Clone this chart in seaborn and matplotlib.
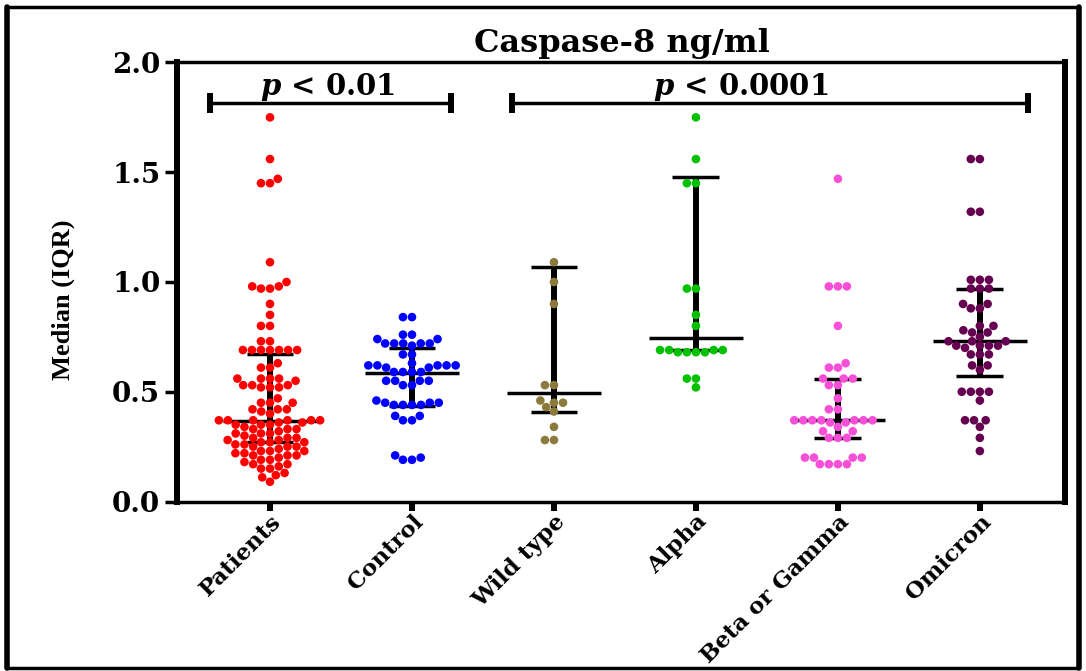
import matplotlib
matplotlib.use('Agg')
import matplotlib.pyplot as plt
from matplotlib.lines import Line2D
import seaborn as sns
import pandas as pd
import numpy as np

# groups and colours
groups = ['Patients', 'Control', 'Wild type', 'Alpha', 'Beta or Gamma', 'Omicron']
colors = ['#FF0000', '#0000FF', '#8C7A3C', '#00C000', '#F84FD8', '#650050']

# values (ng/ml)
patients = [1.75, 1.56, 1.47, 1.45, 1.45, 1.09, 1.00, 0.98, 0.98, 0.97, 0.97, 0.90, 0.85,
            0.80, 0.80, 0.73, 0.73, 0.69, 0.69, 0.69, 0.69, 0.69, 0.69, 0.69, 0.63, 0.61,
            0.61, 0.56, 0.56, 0.56, 0.55, 0.56, 0.53, 0.53, 0.53, 0.52, 0.52, 0.52, 0.47,
            0.45, 0.45, 0.45, 0.42, 0.42, 0.42, 0.41, 0.40, 0.37, 0.37, 0.37, 0.37, 0.36,
            0.37, 0.37, 0.36, 0.35, 0.35, 0.34, 0.35, 0.33, 0.33, 0.32, 0.33,
            0.31, 0.31, 0.30, 0.31, 0.29, 0.29, 0.28, 0.29, 0.28, 0.27,
            0.27, 0.26, 0.27, 0.26, 0.25, 0.25, 0.24, 0.25, 0.23, 0.23,
            0.22, 0.23, 0.22, 0.21, 0.21, 0.20, 0.21, 0.19, 0.19, 0.18,
            0.17, 0.17, 0.16, 0.15, 0.15, 0.13, 0.12, 0.11, 0.09]
control = [0.84, 0.84, 0.76, 0.76, 0.74, 0.74, 0.72, 0.72, 0.72, 0.71, 0.72, 0.72, 0.67,
           0.67, 0.62, 0.62, 0.62, 0.62, 0.63, 0.62, 0.61, 0.61, 0.59, 0.59, 0.59, 0.59,
           0.55, 0.55, 0.55, 0.55, 0.53, 0.53, 0.45, 0.45, 0.45, 0.46, 0.44, 0.44, 0.44,
           0.44, 0.39, 0.39, 0.37, 0.37, 0.20, 0.21, 0.19, 0.19]
wild_type = [1.09, 1.00, 0.90, 0.53, 0.53, 0.46, 0.45, 0.45, 0.43, 0.41, 0.34, 0.28, 0.28]
alpha = [1.75, 1.56, 1.45, 1.45, 0.97, 0.97, 0.85, 0.80, 0.69, 0.68, 0.69, 0.68, 0.68,
         0.68, 0.69, 0.69, 0.56, 0.56, 0.52]
beta_gamma = [1.47, 0.98, 0.98, 0.98, 0.80, 0.63, 0.61, 0.61, 0.56, 0.56, 0.56, 0.53, 0.53,
              0.47, 0.42, 0.42, 0.37, 0.37, 0.37, 0.36, 0.37, 0.36, 0.37, 0.37, 0.37, 0.34,
              0.32, 0.32, 0.29, 0.29, 0.29, 0.20, 0.20, 0.20, 0.20, 0.17, 0.17, 0.17, 0.17]
omicron = [1.56, 1.56, 1.32, 1.32, 1.01, 1.01, 1.01, 0.97, 0.97, 0.97, 0.90, 0.90, 0.88,
           0.88, 0.80, 0.80, 0.78, 0.77, 0.77, 0.75, 0.73, 0.73, 0.73, 0.71, 0.71, 0.71,
           0.71, 0.70, 0.67, 0.67, 0.67, 0.62, 0.62, 0.60, 0.50, 0.50, 0.50, 0.50, 0.46,
           0.37, 0.37, 0.37, 0.34, 0.29, 0.23]

# median and IQR bars as shown
medians = [0.365, 0.585, 0.495, 0.745, 0.37, 0.73]
q1 = [0.27, 0.437, 0.41, 0.69, 0.29, 0.57]
q3 = [0.67, 0.70, 1.07, 1.48, 0.56, 0.97]

df = pd.concat([
    pd.DataFrame({'group': g, 'value': v})
    for g, v in zip(groups, [patients, control, wild_type, alpha, beta_gamma, omicron])
])

sns.set_style('ticks')
plt.rcParams['font.family'] = ['DejaVu Serif']
plt.rcParams['mathtext.fontset'] = 'custom'
plt.rcParams['mathtext.it'] = 'DejaVu Serif:italic:bold'
for key in ['text.color', 'axes.labelcolor', 'xtick.color', 'ytick.color', 'axes.edgecolor']:
    plt.rcParams[key] = 'black'

fig = plt.figure(figsize=(10.86, 6.71), dpi=100)
ax = fig.add_axes([0.163, 0.2526, 0.8177, 0.6543])

# median / IQR (drawn under the dots)
pos = np.arange(len(groups))
ax.vlines(pos, q1, q3, color='black', lw=4.3, zorder=1)
ax.hlines(q1, pos - 0.165, pos + 0.165, color='black', lw=2.5, zorder=1)
ax.hlines(q3, pos - 0.165, pos + 0.165, color='black', lw=2.5, zorder=1)
ax.hlines(medians, pos - 0.33, pos + 0.33, color='black', lw=2.5, zorder=1)

sns.swarmplot(data=df, x='group', y='value', hue='group', order=groups,
              palette=colors, size=6.2, linewidth=0, legend=False, ax=ax, zorder=3)

ax.set_xlim(-0.655, 5.6)
ax.set_ylim(0, 2.0)
ax.set_yticks([0, 0.5, 1.0, 1.5, 2.0])
ax.set_yticklabels(['0.0', '0.5', '1.0', '1.5', '2.0'], fontsize=20, fontweight='bold')
ax.set_xticks(pos)
ax.set_xticklabels(groups, rotation=45, ha='right', va='top', rotation_mode='anchor',
                   fontsize=16.5, fontweight='bold')
ax.set_xlabel('')
ax.set_ylabel('Median (IQR)', family='Liberation Serif', fontweight='bold', fontsize=19)
ax.yaxis.set_label_coords(-0.115, 0.459)

for side in ['left', 'right']:
    ax.spines[side].set_linewidth(4.3)
for side in ['top', 'bottom']:
    ax.spines[side].set_linewidth(2.5)
ax.tick_params(axis='y', width=2.5, length=9, pad=3)
ax.tick_params(axis='x', width=4.3, length=6.5, pad=0)

# significance brackets
brackets = [(-0.423, 1.275, 0.406, '$p$ < 0.01'), (1.708, 5.342, 3.317, '$p$ < 0.0001')]
for x0, x1, xt, label in brackets:
    ax.plot([x0, x1], [1.814, 1.814], color='black', lw=2.5, solid_capstyle='butt')
    ax.plot([x0, x0], [1.768, 1.86], color='black', lw=4.3, solid_capstyle='butt')
    ax.plot([x1, x1], [1.768, 1.86], color='black', lw=4.3, solid_capstyle='butt')
    ax.text(xt, 1.85, label, ha='center', va='baseline', fontsize=21, fontweight='bold')

fig.text(0.573, 0.9225, 'Caspase-8 ng/ml', ha='center', va='baseline',
         fontsize=23, fontweight='bold')

# outer frame
for xs, ys, lw in [([0.0069, 0.0069], [0.0045, 0.9903], 4),
                   ([0.9936, 0.9936], [0.0045, 0.9903], 4),
                   ([0.0069, 0.9936], [0.9903, 0.9903], 2.5),
                   ([0.0069, 0.9936], [0.0045, 0.0045], 2.5)]:
    fig.add_artist(Line2D(xs, ys, transform=fig.transFigure, color='black', lw=lw))

fig.savefig('out.png', dpi=100)
